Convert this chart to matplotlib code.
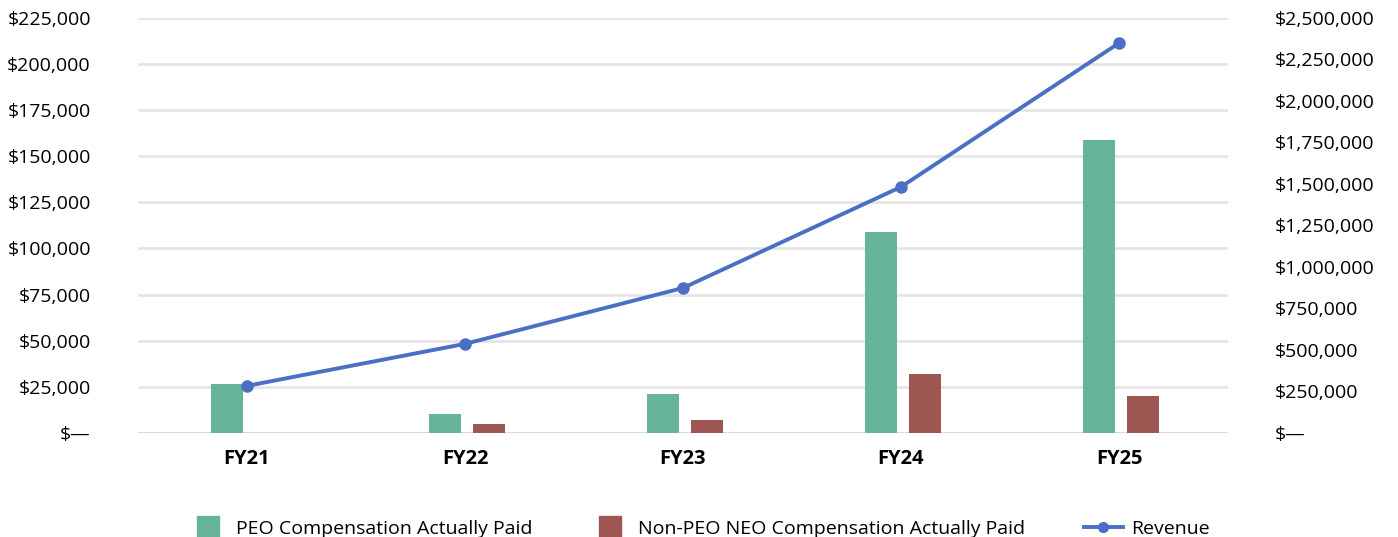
import numpy as np
import matplotlib.pyplot as plt
from matplotlib.lines import Line2D
from matplotlib.ticker import FuncFormatter

years = ['FY21', 'FY22', 'FY23', 'FY24', 'FY25']
peo_cap = [26600, 10300, 21100, 109000, 159000]
non_peo_cap = [0, 4900, 7000, 32000, 20000]
revenue = [283000, 536000, 873000, 1482000, 2349000]

green = '#66b59b'
red = '#9e5652'
blue = '#4a6fc4'

plt.rcParams['font.family'] = ['Open Sans', 'DejaVu Sans']

fig = plt.figure(figsize=(13.98, 5.37), dpi=100)
ax = fig.add_axes([0.0987, 0.194, 0.7797, 0.7725])
ax2 = ax.twinx()

x = np.arange(len(years))
bw = 0.145
ax.bar(x - 0.092, peo_cap, bw, color=green, zorder=3)
ax.bar(x + 0.11, [v if v > 0 else np.nan for v in non_peo_cap], bw, color=red, zorder=3)
ax2.plot(x, revenue, color=blue, lw=2.8, marker='o', ms=8, zorder=4)

def money(v, pos):
    if v == 0:
        return '$\u2014'
    return '${:,.0f}'.format(v)

ax.set_xlim(-0.5, 4.5)
ax.set_ylim(0, 225000)
ax.set_yticks(np.arange(0, 225001, 25000))
ax.yaxis.set_major_formatter(FuncFormatter(money))
ax2.set_ylim(0, 2500000)
ax2.set_yticks(np.arange(0, 2500001, 250000))
ax2.yaxis.set_major_formatter(FuncFormatter(money))

ax.grid(axis='y', color='#e3e3e3', lw=1.8, zorder=0)
ax.axhline(0, color='#d8d8d8', lw=2, zorder=1)
ax.set_axisbelow(True)
for a in (ax, ax2):
    for s in a.spines.values():
        s.set_visible(False)
ax.tick_params(axis='y', length=0, pad=34, labelsize=14)
ax2.tick_params(axis='y', length=0, pad=34, labelsize=14)
ax.set_xticks(x)
ax.set_xticklabels(years, fontweight='bold', fontsize=14.5)
ax.tick_params(axis='x', length=0, pad=12)

ax.set_zorder(ax2.get_zorder() - 1)
ax.patch.set_visible(False)

handles = [
    Line2D([], [], marker='s', ls='', color=green, ms=16),
    Line2D([], [], marker='s', ls='', color=red, ms=16),
    Line2D([], [], marker='o', color=blue, lw=2.8, ms=7),
]
labels = ['PEO Compensation Actually Paid', 'Non-PEO NEO Compensation Actually Paid', 'Revenue']
fig.legend(handles, labels, loc='lower center', bbox_to_anchor=(0.5, -0.035), ncol=3,
           frameon=False, fontsize=14, columnspacing=3.0, handletextpad=0.45)

plt.savefig('out.png', dpi=100)
